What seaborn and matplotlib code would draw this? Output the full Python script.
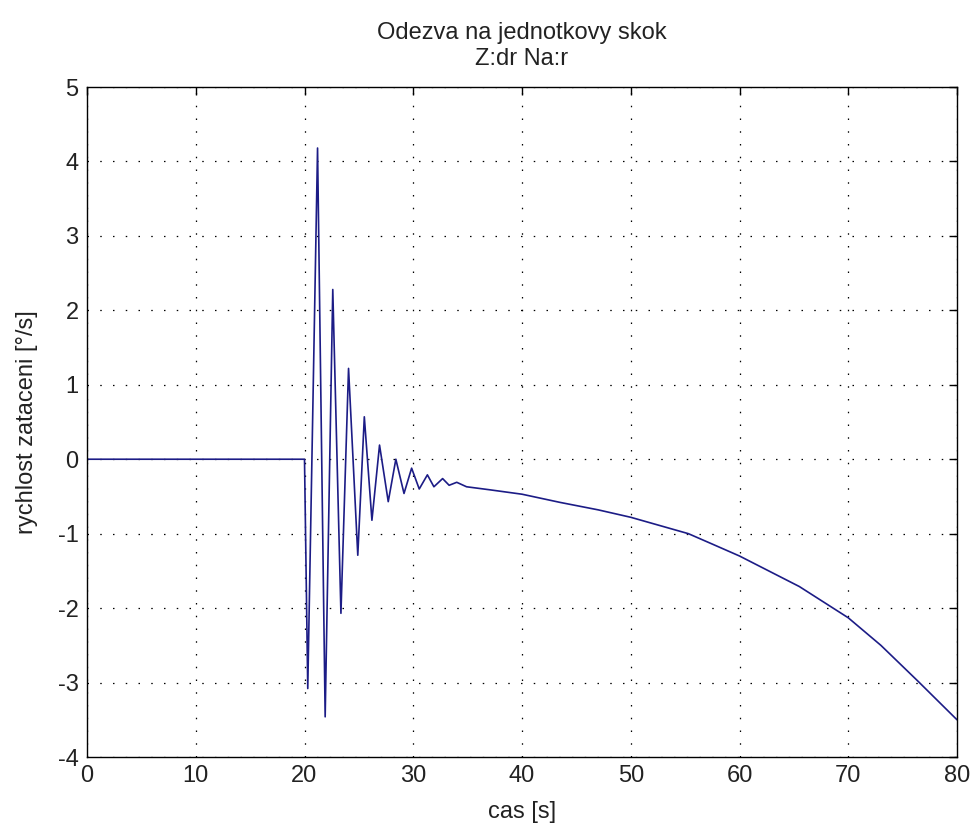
import seaborn as sns
import matplotlib.pyplot as plt
import pandas as pd

# cas [s] a rychlost zataceni [deg/s]
cas = [0, 20.0, 20.3, 21.2, 21.9, 22.6, 23.35, 24.05, 24.9, 25.5, 26.2, 26.9,
       27.7, 28.4, 29.15, 29.85, 30.55, 31.3, 31.9, 32.7, 33.3, 34.0, 34.9,
       37, 40, 43.5, 47, 50, 55.3, 57.5, 60, 65.5, 70, 73, 76.4, 80]
rychlost = [0, 0, -3.08, 4.18, -3.46, 2.28, -2.07, 1.22, -1.29, 0.57, -0.82, 0.19,
            -0.57, 0.0, -0.46, -0.12, -0.40, -0.21, -0.37, -0.26, -0.35, -0.31, -0.37,
            -0.41, -0.47, -0.58, -0.68, -0.78, -1.0, -1.14, -1.30, -1.71, -2.13, -2.50, -2.98, -3.50]

x_ticks = [0, 10, 20, 30, 40, 50, 60, 70, 80]
y_ticks = [-4, -3, -2, -1, 0, 1, 2, 3, 4, 5]

df = pd.DataFrame({'cas': cas, 'rychlost': rychlost})

sns.set_style('white')
plt.rcParams['font.family'] = ['Liberation Sans', 'DejaVu Sans']
plt.rcParams['font.size'] = 17
plt.rcParams['axes.unicode_minus'] = False
plt.rcParams['text.color'] = '#222222'

fig = plt.figure(figsize=(9.76, 8.34), dpi=100)
ax = fig.add_axes([87 / 976, 1 - 757 / 834, 870 / 976, 670 / 834])

sns.lineplot(data=df, x='cas', y='rychlost', estimator=None, sort=False,
             color='#1c1c86', linewidth=1.2, ax=ax)

ax.set_xlim(0, 80)
ax.set_ylim(-4, 5)
ax.set_xticks(x_ticks)
ax.set_yticks(y_ticks)
ax.grid(True, color='black', linestyle=(0, (1.2, 9)), linewidth=0.9)
ax.tick_params(direction='in', length=6, width=1, top=True, right=True,
               labelsize=17, pad=6, colors='black', labelcolor='#222222')
for s in ax.spines.values():
    s.set_color('black')
    s.set_linewidth(1)

ax.set_xlabel('cas [s]', fontsize=17, labelpad=10, color='#222222')
ax.set_ylabel('rychlost zataceni [°/s]', fontsize=17, labelpad=14, color='#222222')
ax.set_title('Odezva na jednotkovy skok\nZ:dr Na:r', fontsize=17, pad=16,
             linespacing=1.2, color='#222222')

fig.savefig('out.png', dpi=100, facecolor='white')
